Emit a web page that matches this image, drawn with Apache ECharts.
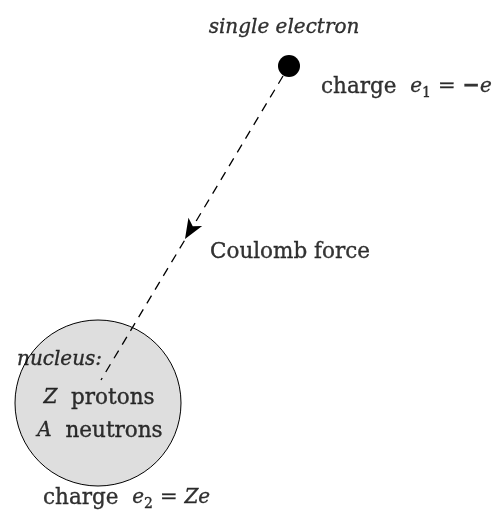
<!DOCTYPE html>
<html>
<head>
<meta charset="utf-8">
<script src="https://cdn.jsdelivr.net/npm/echarts@6/dist/echarts.min.js"></script>
<style>
  html, body { margin: 0; padding: 0; background: #fff; }
  #main { width: 498px; height: 512px; }
</style>
</head>
<body>
<div id="main"></div>
<script>
// 坐标: 像素空间 (x 向右, y 向下)
var electron = [289, 66];
var nucleus = [98, 403];
var forceLine = [[283, 76], [101, 380]];
var arrowAt = [185, 239];

// 文字标签: [x, y, 文本, 对齐]
var labels = [
  [284, 28, "{i|single electron}", "center"],
  [321, 87, "charge  {i|e}{sub|1}{eq|=}{b|−}{i|e}", "left"],
  [210, 252, "Coulomb force", "left"],
  [17, 360, "{i|nucleus:}", "left"],
  [99, 398, "{i|Z}  protons", "center"],
  [100, 431, "{i|A}  neutrons", "center"],
  [43, 498, "charge  {i|e}{sub|2}{eq|=}{i|Ze}", "left"]
];

var FONT = "DejaVu Serif";
var INK = { color: "#000", textBorderColor: "#000", textBorderWidth: 0.35 };
var myChart = echarts.init(document.getElementById("main"));

var option = {
  animation: false,
  grid: { left: 0, right: 0, top: 0, bottom: 0 },
  xAxis: { type: "value", min: 0, max: 498, show: false },
  yAxis: { type: "value", min: 0, max: 512, inverse: true, show: false },
  series: [
    {
      // 原子核
      type: "scatter",
      z: 1,
      symbol: "circle",
      symbolSize: 166,
      itemStyle: { color: "#dedede", borderColor: "#000", borderWidth: 1, opacity: 1 },
      data: [nucleus]
    },
    {
      // 库仑力 虚线
      type: "line",
      z: 2,
      symbol: "none",
      lineStyle: { color: "#000", width: 1.3, type: [9, 7] },
      data: forceLine
    },
    {
      // 箭头
      type: "scatter",
      z: 3,
      symbol: "arrow",
      symbolSize: [12, 20],
      symbolRotate: 149,
      itemStyle: { color: "#000", opacity: 1 },
      data: [arrowAt]
    },
    {
      // 电子
      type: "scatter",
      z: 3,
      symbol: "circle",
      symbolSize: 22,
      itemStyle: { color: "#000", opacity: 1 },
      data: [electron]
    },
    {
      // 文字
      type: "scatter",
      z: 4,
      symbolSize: 0,
      data: labels.map(function (l) {
        return {
          value: [l[0], l[1]],
          label: Object.assign({
            show: true,
            position: "inside",
            align: l[3],
            verticalAlign: "middle",
            formatter: l[2],
            fontFamily: FONT,
            fontSize: 21.5,
            rich: {
              i: Object.assign({ fontFamily: FONT, fontStyle: "italic", fontSize: 20 }, INK),
              b: Object.assign({ fontFamily: FONT, fontSize: 21, fontWeight: "bold" }, INK),
              eq: Object.assign({ fontFamily: FONT, fontSize: 21, padding: [0, 7, 0, 7] }, INK),
              sub: Object.assign({ fontFamily: FONT, fontSize: 14, padding: [12, 0, 0, 0] }, INK)
            }
          }, INK)
        };
      })
    }
  ]
};
myChart.setOption(option);
</script>
</body>
</html>
